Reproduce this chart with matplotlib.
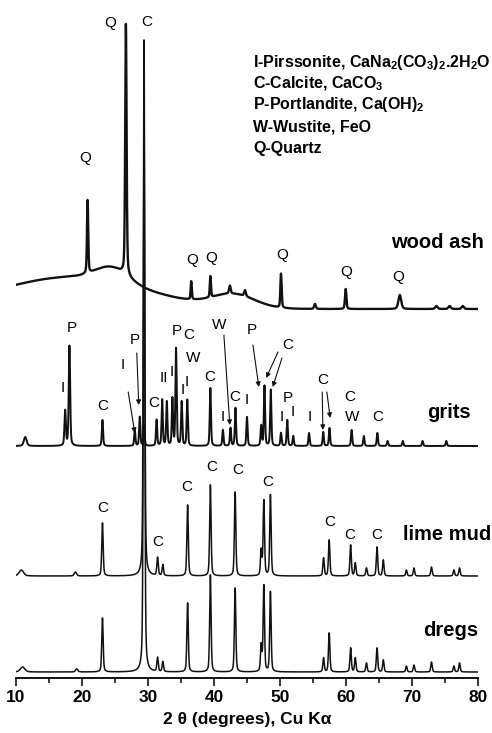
import numpy as np
import matplotlib.pyplot as plt

plt.rcParams['font.family'] = ['Liberation Sans', 'DejaVu Sans']
plt.rcParams['mathtext.fontset'] = 'custom'
plt.rcParams['mathtext.rm'] = 'Liberation Sans'
plt.rcParams['mathtext.bf'] = 'Liberation Sans:bold'

# peak lists: 2theta position, height above background (a.u.), fwhm (deg)
wood_pos = [20.85, 26.65, 36.55, 39.45, 42.4, 44.7, 50.15, 55.3, 59.95, 68.15, 73.7, 75.7, 77.7]
wood_h = [73, 251, 18, 21, 8, 6, 34, 5, 20, 14, 3, 3, 3]
wood_w = [0.22, 0.25, 0.2, 0.2, 0.3, 0.3, 0.22, 0.3, 0.25, 0.5, 0.4, 0.4, 0.4]
# amorphous halos under the wood ash pattern (centre, height, sigma)
halo_pos = [10.0, 21.0, 24.5, 43.0]
halo_h = [10, 26, 14, 13]
halo_sig = [10.0, 10.0, 2.4, 3.2]

grits_pos = [11.4, 17.45, 18.1, 23.1, 28.0, 28.75, 29.4, 31.3, 32.15, 32.85, 33.7, 34.25,
             35.1, 35.95, 39.45, 41.35, 42.5, 43.25, 45.0, 47.15, 47.65, 48.6, 50.15,
             51.1, 52.0, 54.4, 56.55, 57.5, 60.85, 62.7, 64.75, 66.3, 68.6, 71.6, 75.2]
grits_h = [9, 35, 100, 26, 16, 29, 20, 26, 46, 44, 47, 97,
           44, 46, 58, 16, 18, 38, 29, 20, 60, 56, 13,
           26, 10, 13, 14, 18, 16, 10, 13, 5, 5, 5, 5]
grits_w = [0.5, 0.25, 0.25] + [0.22] * 32

lime_pos = [10.8, 19.0, 23.1, 29.4, 31.45, 32.25, 36.0, 39.45, 43.2, 47.15, 47.55, 48.55,
            56.6, 57.45, 60.7, 61.4, 63.1, 64.7, 65.65, 69.15, 70.3, 72.95, 76.35, 77.2]
lime_h = [6, 4, 53, 536, 18, 11, 71, 91, 84, 25, 75, 81,
          18, 36, 31, 13, 8, 29, 16, 6, 8, 9, 6, 8]
lime_w = [0.8, 0.4] + [0.25] * 22

dregs_pos = [11.0, 19.2, 23.1, 29.4, 31.45, 32.25, 36.0, 39.45, 43.2, 47.15, 47.55, 48.55,
             56.6, 57.45, 60.7, 61.4, 63.1, 64.7, 65.65, 69.15, 70.3, 72.95, 76.35, 77.2]
dregs_h = [5, 3, 54, 560, 14, 10, 69, 97, 84, 26, 86, 80,
           14, 39, 24, 14, 9, 24, 12, 6, 7, 10, 6, 9]
dregs_w = [0.8, 0.4] + [0.25] * 22

# vertical stacking of the four patterns
offsets = {'wood ash': 369, 'grits': 232, 'lime mud': 102, 'dregs': 6}

two_theta = np.arange(10, 80.005, 0.01)


def pattern(pos, height, fwhm, base, eta=0.4):
    y = np.full(two_theta.shape, float(base))
    for c, h, w in zip(pos, height, fwhm):
        u = ((two_theta - c) / (w / 2)) ** 2
        y += h * (eta / (1 + u) + (1 - eta) * np.exp(-np.log(2) * u))
    return y


def halos(pos, height, sig):
    y = np.zeros(two_theta.shape)
    for c, h, s in zip(pos, height, sig):
        y += h * np.exp(-0.5 * ((two_theta - c) / s) ** 2)
    return y


fig = plt.figure(figsize=(4.92, 7.33), dpi=100)
ax = fig.add_axes([16 / 492, 55 / 733, 462 / 492, 678 / 733])

y_wood = pattern(wood_pos, wood_h, wood_w, offsets['wood ash']) + halos(halo_pos, halo_h, halo_sig)
y_grits = pattern(grits_pos, grits_h, grits_w, offsets['grits'])
y_lime = pattern(lime_pos, lime_h, lime_w, offsets['lime mud'])
y_dregs = pattern(dregs_pos, dregs_h, dregs_w, offsets['dregs'])

ax.plot(two_theta, y_dregs, color='#111111', lw=1.1)
ax.plot(two_theta, y_lime, color='#111111', lw=1.1)
ax.plot(two_theta, y_grits, color='#111111', lw=1.4)
ax.plot(two_theta, y_wood, color='#111111', lw=1.7)

ax.set_xlim(10, 80)
ax.set_ylim(0, 678)
for s in ['left', 'top', 'right']:
    ax.spines[s].set_visible(False)
ax.spines['bottom'].set_linewidth(1.3)
ax.set_yticks([])
ax.set_xticks(np.arange(10, 81, 10))
ax.set_xticks(np.arange(15, 80, 10), minor=True)
ax.tick_params(axis='x', which='major', length=6, width=1.1, direction='out', labelsize=12.5, pad=3)
ax.tick_params(axis='x', which='minor', length=3.5, width=1.1, direction='out')
for lbl in ax.get_xticklabels():
    lbl.set_fontweight('bold')
ax.set_xlabel('2 θ (degrees), Cu Kα', fontsize=12.5, fontweight='bold', labelpad=5)

# sample names
for name, x, y in [('wood ash', 73.8, 435), ('grits', 75.6, 265),
                   ('lime mud', 75.3, 143), ('dregs', 75.8, 48)]:
    ax.text(x, y, name, fontsize=14.5, fontweight='bold', ha='center', va='center')

# phase labels
wood_lbl = [('Q', 24.24, 655), ('C', 29.85, 656), ('Q', 20.45, 520), ('Q', 36.67, 418),
            ('Q', 39.55, 420), ('Q', 50.3, 423), ('Q', 60.0, 406), ('Q', 67.88, 401)]
grits_lbl = [('I', 17.1, 290), ('P', 18.5, 350), ('C', 23.2, 272), ('I', 26.2, 313),
             ('P', 28.0, 338), ('C', 30.9, 275), ('II', 32.4, 300), ('I', 33.6, 306),
             ('P', 34.4, 347), ('C', 36.2, 343), ('W', 36.8, 320), ('I', 35.2, 288),
             ('I', 35.9, 296), ('C', 39.4, 301), ('W', 40.8, 353), ('I', 41.4, 261),
             ('C', 43.2, 281), ('I', 45.0, 278), ('P', 45.8, 348), ('C', 51.1, 333),
             ('I', 50.2, 261), ('P', 51.2, 280), ('I', 52.0, 266), ('I', 54.5, 261),
             ('C', 56.5, 298), ('C', 60.6, 281), ('W', 60.9, 261), ('C', 64.8, 261)]
lime_lbl = [('C', 23.2, 170), ('C', 31.5, 136), ('C', 35.9, 191), ('C', 39.7, 211),
            ('C', 43.6, 208), ('C', 48.2, 196), ('C', 57.6, 156), ('C', 60.6, 143),
            ('C', 64.7, 143)]
for txt, x, y in wood_lbl + grits_lbl + lime_lbl:
    ax.text(x, y, txt, fontsize=11, ha='center', va='center')

# arrows pointing from labels to overlapped reflections
arrows = [((27.0, 286), (28.0, 245)), ((28.3, 325), (28.6, 273)),
          ((41.5, 343), (42.4, 253)), ((45.9, 333), (46.8, 291)),
          ((49.7, 326), (47.9, 300)), ((50.3, 320), (48.9, 291)),
          ((56.4, 286), (56.5, 248)), ((57.1, 286), (57.6, 260))]
for start, tip in arrows:
    ax.annotate('', xy=tip, xytext=start,
                arrowprops=dict(arrowstyle='-|>', lw=0.8, color='#111111',
                                mutation_scale=7, shrinkA=0, shrinkB=0))

legend_lines = [r'I-Pirssonite, CaNa$_\mathbf{2}$(CO$_\mathbf{3}$)$_\mathbf{2}$.2H$_\mathbf{2}$O',
                r'C-Calcite, CaCO$_\mathbf{3}$',
                r'P-Portlandite, Ca(OH)$_\mathbf{2}$',
                'W-Wustite, FeO',
                'Q-Quartz']
for i, line in enumerate(legend_lines):
    fig.text(253 / 492, 1 - (62 + 21.5 * i) / 733, line, fontsize=11.5, fontweight='bold',
             ha='left', va='center')

fig.savefig('out.png', dpi=100)
